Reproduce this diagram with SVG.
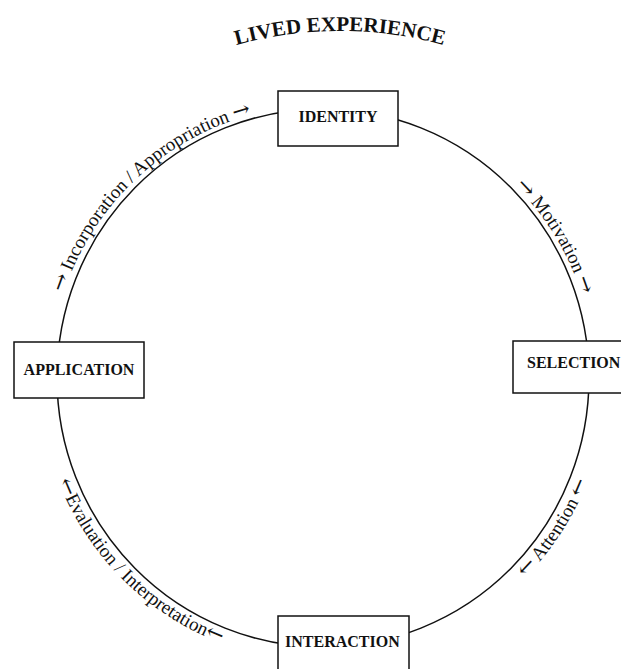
<svg xmlns="http://www.w3.org/2000/svg" xmlns:xlink="http://www.w3.org/1999/xlink" width="621" height="669" viewBox="0 0 621 669">
<style>
.node rect{fill:#fff;stroke:#111;stroke-width:1.5}
.node text{font-family:"Liberation Serif","Times New Roman",serif;font-weight:bold;font-size:16px;fill:#111}
.conn path{fill:none;stroke:#111;stroke-width:1.5}
.lbl{font-family:"Liberation Serif","Times New Roman",serif;font-size:19px;fill:#111}
.ar{font-family:"DejaVu Serif","DejaVu Sans",serif;font-size:21px}
.title{font-family:"Liberation Serif","Times New Roman",serif;font-weight:bold;font-size:21px;fill:#111}
</style>
<defs>
<path id="pTitle" d="M 190 61 A 390 390 0 0 1 490 61"/>
<path id="p1" d="M 51.76 347.10 A 273 273 0 0 1 306.33 105.51"/>
<path id="p2" d="M 409.76 120.21 A 272 272 0 0 1 591.94 418.67"/>
<path id="p3" d="M 406.03 649.59 A 284 284 0 0 0 604.88 343.39"/>
<path id="p4" d="M 40.12 403.25 A 284 284 0 0 0 298.74 660.96"/>
</defs>
<rect width="621" height="669" fill="#fff"/>
<text class="title"><textPath xlink:href="#pTitle" startOffset="50%" text-anchor="middle">LIVED EXPERIENCE</textPath></text>
<g id="connectors" class="conn">
<path d="M 323 109 A 266 269 0 0 1 589 378"/>
<path d="M 589 378 A 266 269 0 0 1 323 647"/>
<path d="M 323 647 A 266 269 0 0 1 57 378"/>
<path d="M 57 378 A 266 269 0 0 1 323 109"/>
</g>
<g id="labels">
<text class="lbl"><textPath xlink:href="#p1" startOffset="50%" text-anchor="middle"><tspan class="ar">→</tspan> Incorporation / Appropriation <tspan class="ar">→</tspan></textPath></text>
<text class="lbl"><textPath xlink:href="#p2" startOffset="50%" text-anchor="middle"><tspan class="ar">→</tspan> Motivation <tspan class="ar">→</tspan></textPath></text>
<text class="lbl"><textPath xlink:href="#p3" startOffset="50%" text-anchor="middle"><tspan class="ar">←</tspan> Attention <tspan class="ar">←</tspan></textPath></text>
<text class="lbl"><textPath xlink:href="#p4" startOffset="50%" text-anchor="middle"><tspan class="ar">←</tspan>Evaluation / Interpretation<tspan class="ar">←</tspan></textPath></text>
</g>
<g id="identity" class="node"><rect x="278" y="91" width="120" height="55"/><text x="338" y="122" text-anchor="middle">IDENTITY</text></g>
<g id="selection" class="node"><rect x="513" y="341" width="130" height="52"/><text x="527" y="368">SELECTION</text></g>
<g id="interaction" class="node"><rect x="278" y="616" width="131" height="70"/><text x="285" y="647">INTERACTION</text></g>
<g id="application" class="node"><rect x="14" y="342" width="130" height="56"/><text x="79" y="375" text-anchor="middle">APPLICATION</text></g>
</svg>
